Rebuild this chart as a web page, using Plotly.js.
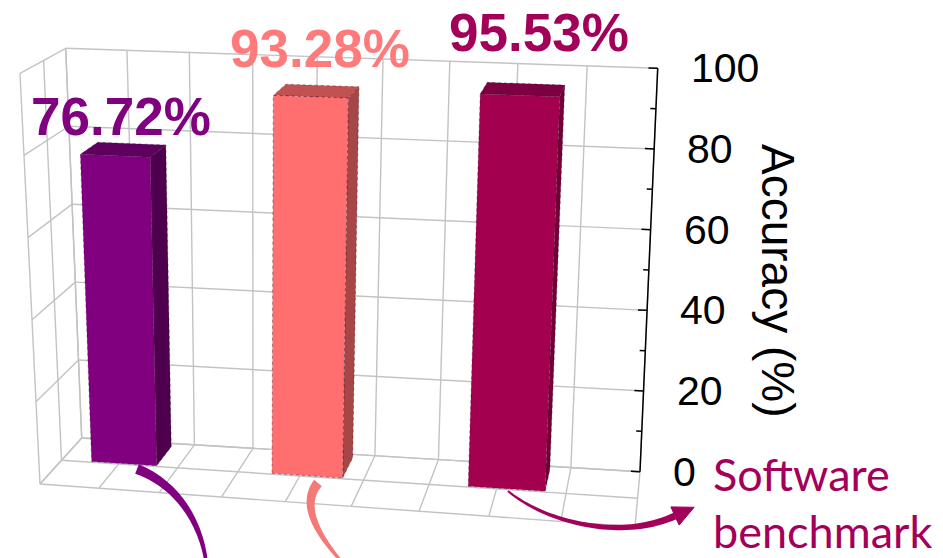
<!DOCTYPE html>
<html>
<head>
<meta charset="utf-8">
<script src="https://cdn.plot.ly/plotly-3.0.1.min.js"></script>
<style>
  html, body { margin: 0; padding: 0; background: #ffffff; }
  #chart { width: 943px; height: 558px; }
</style>
</head>
<body>
<div id="chart"></div>
<script>
// ---- data ----------------------------------------------------------------
const categories = ['', '', 'Software benchmark'];   // only the last bar is named here
const accuracy   = [76.72, 93.28, 95.53];             // %
const valueLabels = accuracy.map(v => v.toFixed(2) + '%');
const zTicks      = [0, 20, 40, 60, 80, 100];
const zMinorTicks = [10, 30, 50, 70, 90];
const axisTitle   = 'Accuracy (%)';

// ---- styling -------------------------------------------------------------
const faceColors = [
  { front: '#800080', side: '#4e004f', top: '#5f0060', label: '#800080' },
  { front: '#ff6f6f', side: '#a64646', top: '#c25252', label: '#ff7b7b' },
  { front: '#a3004f', side: '#700037', top: '#7c0041', label: '#a3005a' }
];
const gridColor = '#c3c3c3';

// ---- view: a perspective box drawn in page pixels ------------------------
// World space: X runs 0..NX across the box, Y 0 (front) .. 1 (back), Z 0..ZMAX.
// Corners are listed front-left, front-right, back-right, back-left.
const NX = 9, ZMAX = 100;
const view = {
  floor:   [[40, 484], [635, 526.7], [640, 471.7], [81.7, 438]],
  ceiling: [[20, 73.3], [652, 97], [657.7, 68.3], [65.7, 48.3]]
};
const bar = { first: 1.08, step: 3.03, halfWidth: 0.56, yFront: 0.515, yBack: 0.93 };

// unit square -> quadrilateral (projective)
function squareToQuad(q) {
  const [x0, y0] = q[0], [x1, y1] = q[1], [x2, y2] = q[2], [x3, y3] = q[3];
  const dx1 = x1 - x2, dx2 = x3 - x2, dx3 = x0 - x1 + x2 - x3;
  const dy1 = y1 - y2, dy2 = y3 - y2, dy3 = y0 - y1 + y2 - y3;
  const den = dx1*dy2 - dx2*dy1;
  const g = (dx3*dy2 - dx2*dy3) / den;
  const h = (dx1*dy3 - dx3*dy1) / den;
  const a = x1 - x0 + g*x1, b = x3 - x0 + h*x3;
  const d = y1 - y0 + g*y1, e = y3 - y0 + h*y3;
  return (u, v) => {
    const w = g*u + h*v + 1;
    return [(a*u + b*v + x0) / w, (d*u + e*v + y0) / w];
  };
}
const floorMap = squareToQuad(view.floor);
const ceilMap  = squareToQuad(view.ceiling);

function project(X, Y, Z) {
  const f = floorMap(X / NX, Y), c = ceilMap(X / NX, Y), t = Z / ZMAX;
  return [f[0] + (c[0] - f[0]) * t, f[1] + (c[1] - f[1]) * t];
}

// ---- traces ---------------------------------------------------------------
const traces = [];

function segmentsTrace(segs, color, width) {
  const x = [], y = [];
  segs.forEach(([a, b]) => {
    const p = project(...a), q = project(...b);
    x.push(p[0], q[0], null); y.push(p[1], q[1], null);
  });
  return { type: 'scatter', mode: 'lines', x, y, hoverinfo: 'skip',
           line: { color, width }, showlegend: false };
}

// walls and floor grid
const grid = [];
const depthLines = [0, 0.5, 1];
for (let X = 0; X <= NX; X++) {
  grid.push([[X, 1, 0], [X, 1, ZMAX]]);          // back wall verticals
  grid.push([[X, 0, 0], [X, 1, 0]]);             // floor, front-to-back
}
zTicks.forEach(Z => {
  grid.push([[0, 1, Z], [NX, 1, Z]]);            // back wall horizontals
  grid.push([[0, 0, Z], [0, 1, Z]]);             // left wall horizontals
});
depthLines.forEach(Y => {
  grid.push([[0, Y, 0], [0, Y, ZMAX]]);          // left wall verticals
  grid.push([[0, Y, 0], [NX, Y, 0]]);            // floor, left-to-right
});
traces.push(segmentsTrace(grid, gridColor, 1.4));

// bars: front, right side and top faces
function face(pts, fill) {
  const P = pts.map(p => project(...p));
  return {
    type: 'scatter', mode: 'lines', fill: 'toself', fillcolor: fill,
    x: P.map(p => p[0]).concat([P[0][0]]), y: P.map(p => p[1]).concat([P[0][1]]),
    line: { color: 'rgba(40,0,25,0.45)', width: 0.8, dash: 'dot' },
    hoverinfo: 'skip', showlegend: false
  };
}
const barCenter = i => bar.first + bar.step * i;
accuracy.forEach((z, i) => {
  const xc = barCenter(i);
  const x0 = xc - bar.halfWidth, x1 = xc + bar.halfWidth;
  const y0 = bar.yFront, y1 = bar.yBack;
  const c = faceColors[i];
  traces.push(face([[x1, y0, 0], [x1, y1, 0], [x1, y1, z], [x1, y0, z]], c.side));
  traces.push(face([[x0, y0, z], [x1, y0, z], [x1, y1, z], [x0, y1, z]], c.top));
  traces.push(face([[x0, y0, 0], [x1, y0, 0], [x1, y0, z], [x0, y0, z]], c.front));
});

// vertical value axis on the back-right edge
const axisSegs = [[[NX, 1, 0], [NX, 1, ZMAX]]];
zTicks.forEach(Z => axisSegs.push([[NX - 0.13, 1, Z], [NX, 1, Z]]));
zMinorTicks.forEach(Z => axisSegs.push([[NX - 0.08, 1, Z], [NX, 1, Z]]));
traces.push(segmentsTrace(axisSegs, '#000000', 1.5));

// ---- annotations ----------------------------------------------------------
const annotations = [];
zTicks.forEach(Z => {
  const p = project(NX, 1, Z);
  annotations.push({ x: p[0] + 31, y: p[1], xref: 'x', yref: 'y', text: String(Z),
    showarrow: false, xanchor: 'left', yanchor: 'middle',
    font: { family: 'Liberation Sans, Arial, sans-serif', size: 41, color: '#000' } });
});
annotations.push({ x: 778, y: 280, xref: 'x', yref: 'y', text: axisTitle, textangle: 90,
  showarrow: false, xanchor: 'center', yanchor: 'middle',
  font: { family: 'Liberation Sans, Arial, sans-serif', size: 46, color: '#000' } });

// value labels sit above the middle of each bar's top face
const labelShift = [[-2, -33], [3, -43], [16, -57]];
accuracy.forEach((z, i) => {
  const p = project(barCenter(i), (bar.yFront + bar.yBack) / 2, z);
  annotations.push({ x: p[0] + labelShift[i][0], y: p[1] + labelShift[i][1], xref: 'x', yref: 'y',
    text: '<b>' + valueLabels[i] + '</b>', showarrow: false, xanchor: 'center', yanchor: 'middle',
    font: { family: 'Liberation Sans, Arial, sans-serif', size: 53, color: faceColors[i].label } });
});

// name of the highlighted bar, split over two lines
categories[2].split(' ').forEach((word, k) => {
  annotations.push({ x: 711, y: 474 + 57 * k, xref: 'x', yref: 'y', text: word,
    showarrow: false, xanchor: 'left', yanchor: 'middle',
    font: { family: 'Lato, Noto Sans, sans-serif', size: 45, color: '#a3005a' } });
});

// ---- curved pointer arrows (tapered bands, cubic centre lines) -------------
const pointers = [
  { color: '#800080', pts: [[206, 561], [200, 520], [176, 484], [137, 469]], w: [3.5, 10], head: null },
  { color: '#f47a78', pts: [[341, 561], [318, 535], [300, 505], [318, 483]], w: [3, 10], head: null },
  { color: '#a3005a', pts: [[508, 491], [545, 522], [620, 541], [675, 516]], w: [2, 7], head: [21, 10] }
];

function bezier(P, t) {
  const s = 1 - t;
  const a = s*s*s, b = 3*s*s*t, c = 3*s*t*t, d = t*t*t;
  return [a*P[0][0] + b*P[1][0] + c*P[2][0] + d*P[3][0],
          a*P[0][1] + b*P[1][1] + c*P[2][1] + d*P[3][1]];
}
function bezierTangent(P, t) {
  const s = 1 - t;
  const dx = 3*s*s*(P[1][0]-P[0][0]) + 6*s*t*(P[2][0]-P[1][0]) + 3*t*t*(P[3][0]-P[2][0]);
  const dy = 3*s*s*(P[1][1]-P[0][1]) + 6*s*t*(P[2][1]-P[1][1]) + 3*t*t*(P[3][1]-P[2][1]);
  const n = Math.hypot(dx, dy);
  return [dx / n, dy / n];
}

const shapes = [];
pointers.forEach(a => {
  const N = 40, left = [], right = [];
  for (let k = 0; k <= N; k++) {
    const t = k / N, p = bezier(a.pts, t), d = bezierTangent(a.pts, t);
    const hw = (a.w[0] + (a.w[1] - a.w[0]) * t) / 2;
    left.push([p[0] - d[1] * hw, p[1] + d[0] * hw]);
    right.push([p[0] + d[1] * hw, p[1] - d[0] * hw]);
  }
  const outline = left.concat(right.reverse());
  shapes.push({ type: 'path', xref: 'x', yref: 'y', layer: 'above',
    path: 'M' + outline.map(p => p[0].toFixed(2) + ',' + p[1].toFixed(2)).join(' L') + ' Z',
    fillcolor: a.color, line: { width: 0 } });
  if (a.head) {
    const end = a.pts[3], d = bezierTangent(a.pts, 1);
    const [len, half] = a.head;
    const tip = [end[0] + d[0] * len, end[1] + d[1] * len];
    const b1 = [end[0] - d[1] * half, end[1] + d[0] * half];
    const b2 = [end[0] + d[1] * half, end[1] - d[0] * half];
    shapes.push({ type: 'path', xref: 'x', yref: 'y', layer: 'above',
      path: 'M' + tip.join(',') + ' L' + b1.join(',') + ' L' + b2.join(',') + ' Z',
      fillcolor: a.color, line: { color: a.color, width: 1 } });
  }
});

const layout = {
  width: 943, height: 558,
  margin: { l: 0, r: 0, t: 0, b: 0 },
  paper_bgcolor: '#ffffff', plot_bgcolor: '#ffffff',
  xaxis: { range: [0, 943], visible: false, fixedrange: true },
  yaxis: { range: [558, 0], visible: false, fixedrange: true },
  showlegend: false,
  annotations, shapes
};

Plotly.newPlot('chart', traces, layout, { displayModeBar: false, staticPlot: true });
</script>
</body>
</html>
